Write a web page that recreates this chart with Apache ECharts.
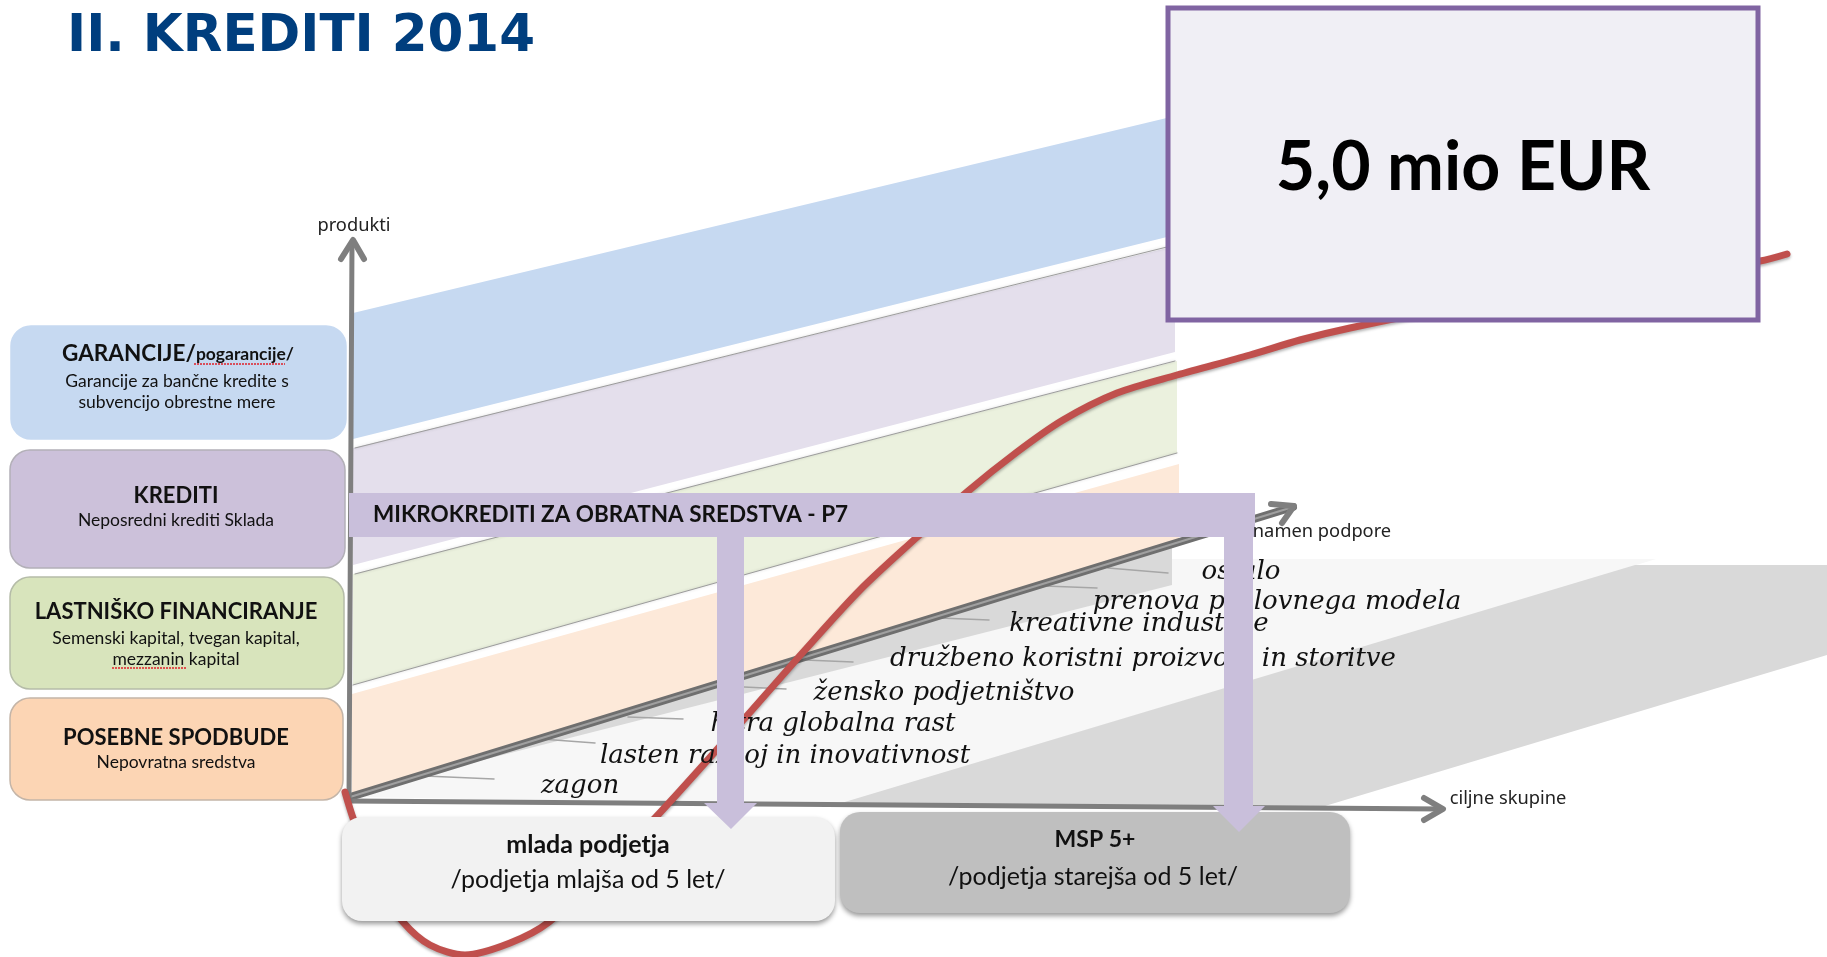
<!DOCTYPE html>
<html>
<head>
<meta charset="utf-8">
<title>II. KREDITI 2014</title>
<style>
  html, body { margin: 0; padding: 0; background: #fff; }
  #chart { width: 1827px; height: 957px; }
</style>
<script src="https://cdn.jsdelivr.net/npm/echarts@6/dist/echarts.min.js"></script>
</head>
<body>
<div id="chart"></div>
<script>
// the diagram has no numeric scale, so values are read off the picture in its own units
const bandBlue = [[353, 313], [1175, 116], [1175, 235], [353, 439]]
const bandPurple = [[353, 448], [1175, 246], [1175, 352], [353, 565]]
const bandGreen = [[353, 574], [1177, 361], [1177, 453], [353, 685]]
const bandPeach = [[352, 694], [1179, 464], [1179, 545], [352, 796]]
const regionLight = [[350, 797], [1172, 547], [1172, 559], [1656, 559], [850, 805]]
const regionShade = [[404, 780], [1172, 585], [1172, 545]]
const regionGrey = [[838, 804], [1635, 565], [1827, 565], [1827, 655], [1325, 806]]

const gapLines = [
  [[355, 448], [1167, 247]],
  [[355, 574], [1175, 361]],
  [[353, 685], [1177, 453]],
]
const axisProducts = [[349, 800], [352, 242]]
const headProducts = [[341, 259], [353, 240], [364, 259]]
const axisGroups = [[349, 801], [1442, 809]]
const headGroups = [[1424, 798], [1443, 809], [1424, 820]]
const axisPurpose = [[350, 797], [1293, 507]]
const headPurpose = [[1271, 504], [1294, 506], [1282, 523]]

const redCurve = [
  [345, 792], [353, 818], [378, 885], [403, 922], [430, 945], [465, 955], [510, 943], [549, 922],
  [600, 873], [656, 817], [730, 735], [805, 650], [860, 590], [916, 538], [967, 492], [1017, 452],
  [1063, 420], [1117, 393], [1177, 375], [1250, 355], [1300, 340], [1350, 328], [1450, 308], [1600, 285],
  [1760, 261], [1787, 254],
]

const leaderLines = [
  [[425, 776], [494, 779]],
  [[541, 739], [595, 743]],
  [[628, 717], [683, 719]],
  [[744, 687], [786, 689]],
  [[805, 660], [853, 662]],
  [[940, 618], [989, 620]],
  [[1045, 586], [1097, 588]],
  [[1108, 568], [1168, 573]],
]

const microBar = [[349, 493], [1255, 493], [1255, 537], [349, 537]]
const arrowYoung = [[717, 537], [744, 537], [744, 803], [757, 803], [731, 829], [704, 803], [717, 803]]
const arrowOld = [[1224, 537], [1253, 537], [1253, 806], [1265, 806], [1239, 832], [1213, 806], [1224, 806]]

const sideBoxes = [[11, 326, 346, 439], [10, 450, 345, 568], [10, 577, 344, 689], [10, 698, 343, 800]]
const sideColors = ['#c6d9f1', '#ccc1da', '#d8e4bc', '#fcd5b4']
const sideBorders = ['#c6d9f1', '#b3b0b8', '#b5bca8', '#c4b5a8']
const groupBoxes = [[342, 817, 835, 921], [840, 812, 1350, 913]]
const groupColors = ['#f2f2f2', '#bfbfbf']
const sumBox = [1168, 8, 1758, 320]

const sideTitles = [
  ['KREDITI', 176, 496],
  ['LASTNIŠKO FINANCIRANJE', 176, 612],
  ['POSEBNE SPODBUDE', 176, 738],
]
const sideNotes = [
  ['Garancije za bančne kredite s', 177, 381],
  ['subvencijo obrestne mere', 177, 402],
  ['Neposredni krediti Sklada', 176, 520],
  ['Semenski kapital, tvegan kapital,', 176, 638],
  ['mezzanin kapital', 176, 659],
  ['Nepovratna sredstva', 176, 762],
]
const spellMarks = [
  [[194, 364], [285, 364]],
  [[112, 668], [186, 668]],
]
const purposeLabels = [
  ['ostalo', 1241, 572],
  ['prenova poslovnega modela', 1277, 602],
  ['kreativne industrije', 1139, 624],
  ['družbeno koristni proizvodi in storitve', 1143, 659],
  ['žensko podjetništvo', 944, 693],
  ['hitra globalna rast', 833, 724],
  ['lasten razvoj in inovativnost', 785, 756],
  ['zagon', 580, 786],
]
const axisLabels = [
  ['produkti', 354, 226],
  ['namen podpore', 1322, 532],
  ['ciljne skupine', 1508, 799],
]

const body = 'Lato, "Noto Sans", sans-serif'

function polygon(points, color, z) {
  return {
    type: 'custom',
    z,
    silent: true,
    data: points,
    renderItem(params, api) {
      if (params.dataIndex !== 0) return
      return {
        type: 'polygon',
        shape: { points: points.map((p) => api.coord(p)) },
        style: { fill: color },
      }
    },
  }
}

function line(points, color, width, z, extra) {
  return {
    type: 'line',
    z,
    silent: true,
    symbol: 'none',
    data: points,
    lineStyle: { color, width, cap: 'round', join: 'round', ...extra },
  }
}

function boxes(items, colors, borders, z) {
  return {
    type: 'custom',
    z,
    silent: true,
    data: items,
    encode: { x: [0, 2], y: [1, 3] },
    renderItem(params, api) {
      const a = api.coord([api.value(0), api.value(1)])
      const b = api.coord([api.value(2), api.value(3)])
      const i = params.dataIndex
      const hasShadow = !borders
      return {
        type: 'rect',
        shape: { x: a[0], y: a[1], width: b[0] - a[0], height: b[1] - a[1], r: 20 },
        style: {
          fill: colors[i],
          stroke: borders ? borders[i] : null,
          lineWidth: borders ? 1.5 : 0,
          shadowBlur: hasShadow ? 5 : 0,
          shadowOffsetY: hasShadow ? 3 : 0,
          shadowColor: 'rgba(0,0,0,0.4)',
        },
      }
    },
  }
}

function texts(rows, z, font, align) {
  return {
    type: 'scatter',
    z,
    silent: true,
    symbolSize: 1,
    itemStyle: { color: 'transparent', opacity: 1 },
    data: rows.map((r) => [r[1], r[2], r[0]]),
    label: {
      show: true,
      position: 'inside',
      align: align || 'center',
      verticalAlign: 'middle',
      formatter: (p) => p.value[2],
      color: '#111',
      ...font,
    },
  }
}

const chart = echarts.init(document.getElementById('chart'))
chart.setOption({
  animation: false,
  backgroundColor: '#fff',
  grid: { left: 0, right: 0, top: 0, bottom: 0 },
  xAxis: { type: 'value', min: 0, max: 1827, show: false },
  yAxis: { type: 'value', min: 0, max: 957, inverse: true, show: false },
  series: [
    polygon(regionLight, '#f7f7f7', 1),
    polygon(regionShade, '#d9d9d9', 1),
    polygon(regionGrey, '#d9d9d9', 1),
    polygon(bandBlue, '#c6d9f1', 1),
    polygon(bandPurple, '#e4dfec', 1),
    polygon(bandGreen, '#ebf1de', 1),
    polygon(bandPeach, '#fde9d9', 1),
    ...gapLines.map((g) => line(g, '#9c9c9c', 1, 2, { shadowBlur: 3, shadowColor: 'rgba(0,0,0,0.2)' })),
    ...leaderLines.map((g) => line(g, '#a6a6a6', 1.5, 2)),
    line(axisPurpose, '#6f6f6f', 8, 3),
    line(axisPurpose, '#a0a0a0', 2, 3),
    line(headPurpose, '#7f7f7f', 6, 3),
    line(axisGroups, '#7f7f7f', 5, 3),
    line(headGroups, '#7f7f7f', 6, 3),
    line(axisProducts, '#7f7f7f', 5, 3),
    line(headProducts, '#7f7f7f', 6, 3),
    {
      ...line(redCurve, '#c0504d', 7, 4, { shadowBlur: 3, shadowOffsetY: 2, shadowColor: 'rgba(0,0,0,0.3)' }),
      smooth: 0.3,
    },
    texts(purposeLabels, 5, { fontFamily: '"DejaVu Serif", serif', fontStyle: 'italic', fontSize: 26 }),
    boxes(sideBoxes, sideColors, sideBorders, 6),
    boxes(groupBoxes, groupColors, null, 6),
    polygon(microBar, '#c9bfdb', 7),
    polygon(arrowYoung, '#c9bfdb', 7),
    polygon(arrowOld, '#c9bfdb', 7),
    texts(sideTitles, 8, { fontFamily: body, fontWeight: 'bold', fontSize: 22 }),
    texts(sideNotes, 8, { fontFamily: body, fontSize: 17.5 }),
    ...spellMarks.map((g) => line(g, '#e0202a', 1.5, 9, { type: [2, 1], cap: 'butt' })),
    {
      ...texts([['', 178, 354]], 8, { fontFamily: body }),
      label: {
        show: true,
        position: 'inside',
        align: 'center',
        verticalAlign: 'middle',
        formatter: '{a|GARANCIJE/}{b|pogarancije/}',
        rich: {
          a: { fontFamily: body, fontWeight: 'bold', fontSize: 22.5, color: '#111' },
          b: { fontFamily: body, fontWeight: 'bold', fontSize: 17.5, color: '#111' },
        },
      },
    },
    texts([['MIKROKREDITI ZA OBRATNA SREDSTVA - P7', 373, 515]], 8, { fontFamily: body, fontWeight: 'bold', fontSize: 22.5 }, 'left'),
    texts(axisLabels, 8, { fontFamily: '"Noto Sans", sans-serif', fontSize: 18.3, color: '#222' }),
    texts([['mlada podjetja', 588, 845]], 8, { fontFamily: body, fontWeight: 'bold', fontSize: 25 }),
    texts([['MSP 5+', 1095, 840]], 8, { fontFamily: body, fontWeight: 'bold', fontSize: 23 }),
    texts([['/podjetja mlajša od 5 let/', 588, 880], ['/podjetja starejša od 5 let/', 1093, 877]], 8, { fontFamily: body, fontSize: 25 }),
    {
      type: 'custom',
      z: 9,
      silent: true,
      data: [sumBox],
      encode: { x: [0, 2], y: [1, 3] },
      renderItem(params, api) {
        const a = api.coord([api.value(0), api.value(1)])
        const b = api.coord([api.value(2), api.value(3)])
        return {
          type: 'rect',
          shape: { x: a[0], y: a[1], width: b[0] - a[0], height: b[1] - a[1] },
          style: { fill: '#f0eff5', stroke: '#8064a2', lineWidth: 5 },
        }
      },
    },
    texts([['5,0 mio EUR', 1463, 168]], 10, { fontFamily: body, fontWeight: 'bold', fontSize: 68, color: '#000' }),
    texts([['II. KREDITI 2014', 67, 38]], 10, { fontFamily: '"DejaVu Sans", sans-serif', fontWeight: 'bold', fontSize: 51.5, color: '#003e7e' }, 'left'),
  ],
})
</script>
</body>
</html>
